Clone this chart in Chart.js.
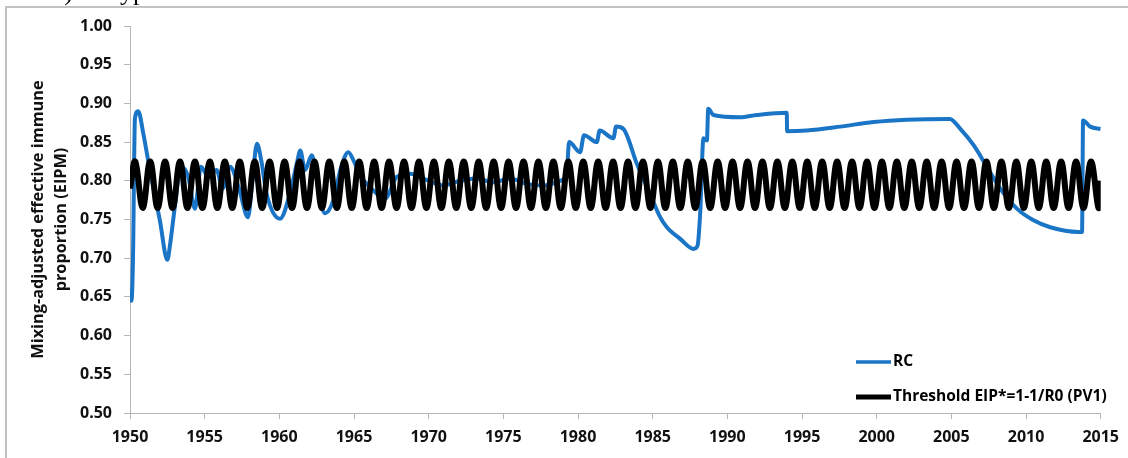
<!DOCTYPE html>
<html>
<head>
<meta charset="utf-8">
<script src="https://cdn.jsdelivr.net/npm/chart.js@4.4.0/dist/chart.umd.min.js"></script>
<style>
  html, body { margin: 0; padding: 0; background: #fff; }
  #wrap { position: relative; width: 1128px; height: 458px; }
</style>
</head>
<body>
<div id="wrap"><canvas id="chart"></canvas></div>
<script>
'use strict';

/* ---- data ---- */
const xTicks = [1950, 1955, 1960, 1965, 1970, 1975, 1980, 1985, 1990, 1995, 2000, 2005, 2010, 2015];
const yTicks = [0.50, 0.55, 0.60, 0.65, 0.70, 0.75, 0.80, 0.85, 0.90, 0.95, 1.00];

// RC curve (year, EIPM)
const rcYears = [
  1950.0, 1950.1, 1950.2, 1950.33, 1950.55, 1950.9, 1951.34, 1952.0, 1952.5, 1952.7,
  1953.0, 1953.4, 1953.9, 1954.35, 1954.75, 1955.25, 1955.8, 1956.2, 1956.7, 1957.3,
  1957.9, 1958.2, 1958.5, 1958.8, 1959.15, 1960.05, 1960.7, 1961.2, 1961.4, 1961.72,
  1962.17, 1962.73, 1963.06, 1963.62, 1964.1, 1964.62, 1965.0, 1965.4, 1966.07, 1967.08,
  1967.86, 1968.75, 1969.87, 1970.98, 1972.1, 1973.2, 1974.33, 1975.45, 1976.57, 1977.68,
  1978.8, 1979.25, 1979.4, 1980.14, 1980.4, 1981.26, 1981.45, 1982.37, 1982.55, 1983.04,
  1983.94, 1984.83, 1985.5, 1985.95, 1986.84, 1987.73, 1988.0, 1988.18, 1988.4, 1988.63,
  1988.72, 1989.07, 1990.86, 1991.97, 1993.98, 1994.0, 1995.32, 1997.55, 1999.79, 2002.02,
  2004.9, 2005.6, 2006.49, 2007.38, 2008.27, 2009.39, 2010.5, 2011.62, 2013.5, 2013.75,
  2013.82, 2014.3, 2015.0
];
const rcValues = [
  0.660, 0.645, 0.700, 0.880, 0.890, 0.860, 0.813, 0.749, 0.698, 0.720,
  0.766, 0.818, 0.805, 0.764, 0.818, 0.805, 0.814, 0.790, 0.818, 0.790,
  0.753, 0.800, 0.848, 0.825, 0.783, 0.751, 0.783, 0.825, 0.839, 0.814,
  0.833, 0.775, 0.758, 0.775, 0.815, 0.837, 0.825, 0.807, 0.792, 0.777,
  0.805, 0.809, 0.801, 0.794, 0.800, 0.803, 0.798, 0.803, 0.796, 0.794,
  0.800, 0.811, 0.850, 0.837, 0.859, 0.850, 0.865, 0.855, 0.870, 0.867,
  0.822, 0.783, 0.753, 0.740, 0.725, 0.712, 0.716, 0.758, 0.855, 0.852,
  0.893, 0.885, 0.882, 0.885, 0.888, 0.864, 0.865, 0.870, 0.876, 0.879,
  0.880, 0.867, 0.846, 0.818, 0.790, 0.764, 0.749, 0.740, 0.734, 0.734,
  0.878, 0.870, 0.867
];

// threshold wave: value at 1950, then crest / trough every half year, value at 2015
const thrStartValue = 0.790;
const thrFirstCrest = 1950.35;
const thrHalfPeriod = 0.5;
const thrExtremes = [
  0.825, 0.765, 0.825, 0.765, 0.825, 0.765, 0.825, 0.765, 0.825, 0.765,
  0.825, 0.765, 0.825, 0.765, 0.825, 0.765, 0.825, 0.765, 0.825, 0.765,
  0.825, 0.765, 0.825, 0.765, 0.825, 0.765, 0.825, 0.765, 0.825, 0.765,
  0.825, 0.765, 0.825, 0.765, 0.825, 0.765, 0.825, 0.765, 0.825, 0.765,
  0.825, 0.765, 0.825, 0.765, 0.825, 0.765, 0.825, 0.765, 0.825, 0.765,
  0.825, 0.765, 0.825, 0.765, 0.825, 0.765, 0.825, 0.765, 0.825, 0.765,
  0.825, 0.765, 0.825, 0.765, 0.825, 0.765, 0.825, 0.765, 0.825, 0.765,
  0.825, 0.765, 0.825, 0.765, 0.825, 0.765, 0.825, 0.765, 0.825, 0.765,
  0.825, 0.765, 0.825, 0.765, 0.825, 0.765, 0.825, 0.765, 0.825, 0.765,
  0.825, 0.765, 0.825, 0.765, 0.825, 0.765, 0.825, 0.765, 0.825, 0.765,
  0.825, 0.765, 0.825, 0.765, 0.825, 0.765, 0.825, 0.765, 0.825, 0.765,
  0.825, 0.765, 0.825, 0.765, 0.825, 0.765, 0.825, 0.765, 0.825, 0.765,
  0.825, 0.765, 0.825, 0.765, 0.825, 0.765, 0.825, 0.765, 0.825, 0.765
];
const thrEndValue = 0.800;

const RC_LABEL = 'RC';
const THR_LABEL = 'Threshold EIP*=1-1/R0 (PV1)';
const Y_TITLE = ['Mixing-adjusted effective immune', 'proportion (EIPM)'];

const COLOR_BLUE = '#1b75c6';
const COLOR_BLACK = '#000000';
const COLOR_AXIS = '#b5b5b5';
const FONT = '"Open Sans", "Liberation Sans", sans-serif';

/* ---- build points ---- */
const rcPoints = rcYears.map((x, i) => ({ x, y: rcValues[i] }));
const thrPoints = [{ x: xTicks[0], y: thrStartValue }]
  .concat(thrExtremes.map((v, i) => ({ x: thrFirstCrest + i * thrHalfPeriod, y: v })))
  .concat([{ x: xTicks[xTicks.length - 1], y: thrEndValue }]);

/* 外枠と切れた見出し */
const framePlugin = {
  id: 'frame',
  beforeDraw(chart) {
    const ctx = chart.ctx;
    ctx.save();
    ctx.fillStyle = '#fff';
    ctx.fillRect(0, 0, chart.width, chart.height);
    ctx.strokeStyle = '#c2c2c2';
    ctx.lineWidth = 2;
    ctx.beginPath();
    ctx.moveTo(6, chart.height);
    ctx.lineTo(6, 7);
    ctx.lineTo(chart.width, 7);
    ctx.stroke();
    ctx.fillStyle = '#000';
    ctx.font = '26px "Liberation Serif", serif';
    ctx.textBaseline = 'alphabetic';
    ctx.textAlign = 'right';
    ctx.fillText('b)', 73, -0.5);
    ctx.textAlign = 'left';
    ctx.fillText('Type', 106, -0.5);
    ctx.restore();
  },
};

/* 凡例（プロット内の右下） */
const legendPlugin = {
  id: 'innerLegend',
  afterDraw(chart) {
    const ctx = chart.ctx;
    const items = [
      { ds: chart.data.datasets[1], y: 362, w: 3.5 },
      { ds: chart.data.datasets[0], y: 397, w: 5 },
    ];
    ctx.save();
    ctx.font = 'bold 15.5px ' + FONT;
    ctx.textBaseline = 'middle';
    ctx.textAlign = 'left';
    items.forEach((it) => {
      ctx.strokeStyle = it.ds.borderColor;
      ctx.lineWidth = it.w;
      ctx.beginPath();
      ctx.moveTo(856, it.y);
      ctx.lineTo(891, it.y);
      ctx.stroke();
      ctx.fillStyle = '#000';
      ctx.fillText(it.ds.label, 893, it.y);
    });
    ctx.restore();
  },
};

new Chart(document.getElementById('chart'), {
  type: 'line',
  data: {
    datasets: [
      {
        label: THR_LABEL,
        data: thrPoints,
        borderColor: COLOR_BLACK,
        borderWidth: 6,
        tension: 0.4,
        pointRadius: 0,
        order: 0,
      },
      {
        label: RC_LABEL,
        data: rcPoints,
        borderColor: COLOR_BLUE,
        borderWidth: 4,
        cubicInterpolationMode: 'monotone',
        pointRadius: 0,
        order: 1,
      },
    ],
  },
  options: {
    responsive: true,
    maintainAspectRatio: false,
    animation: false,
    layout: { padding: { top: 26, right: 27, bottom: 0, left: 0 } },
    plugins: {
      legend: { display: false },
      tooltip: { enabled: false },
    },
    scales: {
      x: {
        type: 'linear',
        min: xTicks[0],
        max: xTicks[xTicks.length - 1],
        afterFit: (s) => { s.height = 45; },
        afterBuildTicks: (s) => { s.ticks = xTicks.map((v) => ({ value: v })); },
        grid: { drawOnChartArea: false, drawTicks: true, tickLength: 6, color: COLOR_AXIS },
        border: { display: true, color: COLOR_AXIS, width: 1 },
        ticks: {
          maxRotation: 0,
          autoSkip: false,
          padding: 9,
          color: '#111',
          font: { family: FONT, size: 16, weight: 'bold' },
          callback: (v) => String(v),
        },
      },
      y: {
        min: yTicks[0],
        max: yTicks[yTicks.length - 1],
        afterFit: (s) => { s.width = 130; },
        afterBuildTicks: (s) => { s.ticks = yTicks.map((v) => ({ value: v })); },
        grid: { drawOnChartArea: false, drawTicks: true, tickLength: 6, color: COLOR_AXIS },
        border: { display: true, color: COLOR_AXIS, width: 1 },
        ticks: {
          padding: 12,
          color: '#111',
          font: { family: FONT, size: 16, weight: 'bold' },
          callback: (v) => Number(v).toFixed(2),
        },
        title: {
          display: true,
          text: Y_TITLE,
          color: '#111',
          padding: { top: 27, bottom: 0 },
          font: { family: FONT, size: 16.3, weight: 'bold', lineHeight: '23px' },
        },
      },
    },
  },
  plugins: [framePlugin, legendPlugin],
});
</script>
</body>
</html>
